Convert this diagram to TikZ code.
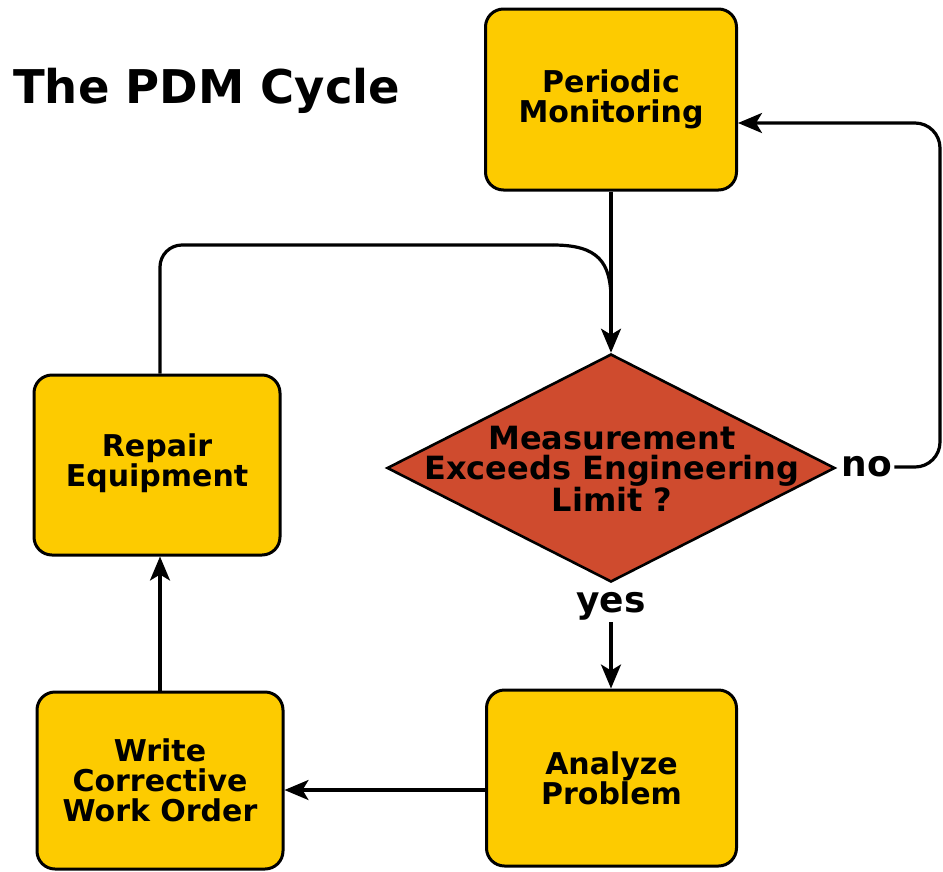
\documentclass[tikz,border=0pt]{standalone}
\usepackage{fontspec}
\setmainfont{DejaVu Sans}
\usetikzlibrary{shapes.geometric,arrows.meta}
\definecolor{boxyellow}{RGB}{253,203,0}
\definecolor{diared}{RGB}{207,75,46}
\tikzset{
  box/.style={draw=black, line width=3pt, fill=boxyellow, rounded corners=18pt,
    align=center, font=\bfseries\fontsize{30}{30}\selectfont, inner sep=0pt},
  conn/.style={line width=3.2pt, draw=black},
  arr/.style={conn, -{Stealth[length=24pt,width=20pt,inset=6pt]}},
  lbl/.style={font=\bfseries\fontsize{36}{36}\selectfont, inner sep=2pt},
}
\begin{document}
\begin{tikzpicture}[x=1pt,y=-1pt]
\useasboundingbox (0,0) rectangle (943,871);
\node[font=\bfseries\fontsize{46.5}{48}\selectfont, anchor=base west, inner sep=0pt] (title) at (13,103) {The PDM Cycle};

\node[box, minimum width=251pt, minimum height=181pt] (pm) at (611,99.5) {Periodic\\Monitoring};
\node[diamond, draw=black, line width=2.6pt, fill=diared, minimum width=448pt, minimum height=228pt, inner sep=0pt] (dm) at (611,468) {};
\node[align=center, font=\bfseries\fontsize{32}{30}\selectfont, inner sep=0pt] (dmtext) at (612,469) {Measurement\\Exceeds Engineering\\Limit ?};
\node[box, minimum width=246pt, minimum height=180pt] (rep) at (157,465) {Repair\\Equipment\\[-20pt]};
\node[box, minimum width=246pt, minimum height=177pt] (wr) at (160,780.5) {Write\\Corrective\\Work Order};
\node[box, minimum width=250pt, minimum height=176pt] (an) at (611.5,778) {Analyze\\Problem};

\node[lbl] (no) at (867,467) {no};
\node[lbl] (yes) at (611,606) {yes};

\coordinate (turnL) at (160,245);
\coordinate (bendS) at (553,245);
\coordinate (jn) at (611,300);
\coordinate (rt) at (940,123);
\coordinate (yl) at (0,790);

\draw[arr] (pm.south) -- (dm.north);
\draw[conn, rounded corners=22pt] (rep.north -| turnL) -- (turnL) -- (bendS);
\draw[conn] (bendS) .. controls (598,245) and (611,262) .. (jn);
\draw[arr, rounded corners=25pt] (no.east) -- (rt |- no.east) -- (rt) -- (pm.east |- rt);
\draw[arr] (yes.south) -- (yes.south |- an.north);
\draw[arr] (an.west |- yl) -- (wr.east |- yl);
\draw[arr] (wr.north) -- (wr.north |- rep.south);
\end{tikzpicture}
\end{document}
